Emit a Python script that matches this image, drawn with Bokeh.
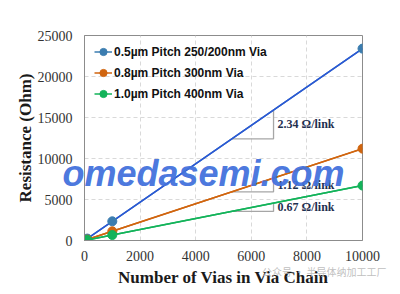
from bokeh.plotting import figure
from bokeh.models import Range1d, Label, LegendItem, Legend, FixedTicker
from bokeh.embed import file_html
from bokeh.resources import INLINE

# ---- data ----
vias = [100, 1000, 10000]
r_05 = [234, 2340, 23400]
r_08 = [112, 1120, 11200]
r_10 = [67, 670, 6700]
series_names = ["0.5µm Pitch 250/200nm Via", "0.8µm Pitch 300nm Via", "1.0µm Pitch 400nm Via"]
slopes = [2.34, 1.12, 0.67]
slope_labels = ["2.34 Ω/link", "1.12 Ω/link", "0.67 Ω/link"]
x_ticks = [0, 2000, 4000, 6000, 8000, 10000]
y_ticks = [0, 5000, 10000, 15000, 20000, 25000]

marker_colors = ["#3b7db0", "#d0650f", "#13b35a"]
line_colors = ["#2a57d6", "#d0650f", "#13b35a"]

p = figure(width=400, height=294, output_backend="svg", toolbar_location=None,
           x_range=Range1d(0, 10000), y_range=Range1d(0, 25000),
           min_border_left=84, min_border_right=38, min_border_top=35, min_border_bottom=54)
p.background_fill_color = "white"
p.border_fill_color = "white"
p.outline_line_color = "#8c8c8c"
p.outline_line_width = 1

p.axis.axis_line_color = "#8c8c8c"
p.axis.major_tick_line_color = None
p.axis.minor_tick_line_color = None
p.axis.major_tick_out = 0
p.axis.major_tick_in = 0
p.axis.minor_tick_out = 0
p.axis.minor_tick_in = 0
p.axis.major_label_text_font = "Liberation Serif"
p.axis.major_label_text_font_size = "14px"
p.axis.major_label_text_color = "#333333"
p.axis.axis_label_text_font = "Liberation Serif"
p.axis.axis_label_text_font_style = "bold"
p.axis.axis_label_text_font_size = "17px"
p.axis.axis_label_text_color = "#1a1a1a"

p.xaxis.ticker = FixedTicker(ticks=x_ticks)
p.yaxis.ticker = FixedTicker(ticks=y_ticks)
p.xaxis.axis_label = "Number of Vias in Via Chain"
p.yaxis.axis_label = "Resistance (Ohm)"
p.xaxis.major_label_standoff = 10
p.xaxis.axis_label_standoff = 4
p.yaxis.major_label_standoff = 12
p.yaxis.axis_label_standoff = 0

p.grid.grid_line_color = "#d9d9d9"
p.grid.grid_line_dash = "4 3"
p.grid.grid_line_width = 1

# slope triangles
x1, x2 = 5300, 6800
for s, lab in zip(slopes, slope_labels):
    p.line([x1, x2, x2], [s * x1, s * x1, s * x2], line_color="#a6a6a6", line_width=1.3)
    p.text(x=[x2], y=[s * (x1 + x2) / 2], text=[lab], x_offset=4,
           text_font="Liberation Serif", text_font_style="bold", text_font_size="12px",
           text_color="#1f3050", text_baseline="middle", text_align="left")

series = [r_05, r_08, r_10]
items = []
for name, ys, mc, lc in zip(series_names, series, marker_colors, line_colors):
    leg_line = p.line(vias, ys, line_color=mc, line_width=1.5)
    p.line(vias, ys, line_color=lc, line_width=1.6)
    sc = p.scatter(vias, ys, size=9, fill_color=mc, line_color=mc)
    items.append(LegendItem(label=name, renderers=[leg_line, sc]))

legend = Legend(items=items, location=(10, 136), glyph_width=18, glyph_height=21,
                label_height=21, spacing=0, padding=3, margin=0, label_standoff=2,
                label_text_font="Liberation Sans", label_text_font_style="bold",
                label_text_font_size="12px", label_text_color="#111111",
                border_line_color=None, background_fill_alpha=0)
p.add_layout(legend)

# watermarks
wm = dict(text_font="Liberation Sans", text_font_style="bold italic", text_font_size="36px",
          text_color="#4271dc", text_alpha=0.95, text_baseline="alphabetic", level="overlay")
# part inside the frame
p.add_layout(Label(x=0, y=67, x_units="screen", y_units="screen", text="medasemi.com", **wm))
# leading letter lies left of the frame; hosted in the (roomy) right side panel to avoid clipping
p.add_layout(Label(x=-300, y=67, x_units="screen", y_units="screen", text="o", **wm), "right")
# faint account watermark, hosted in the top panel
p.add_layout(Label(x=302, y=-236, x_units="screen", y_units="screen", text="公众号 · 半导体纳加工工厂",
                   text_font="Noto Sans CJK SC", text_font_size="10px", text_color="#b8b8b8",
                   text_alpha=0.9, text_align="right", text_baseline="middle", level="overlay"), "above")

open("out.html", "w").write(file_html(p, INLINE))
